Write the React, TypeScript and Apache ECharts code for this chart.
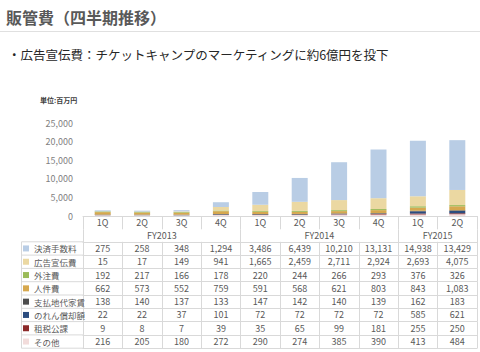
import React, { useEffect, useRef } from "react";
import * as echarts from "echarts";

const quarters = ["1Q", "2Q", "3Q", "4Q", "1Q", "2Q", "3Q", "4Q", "1Q", "2Q"];
const fiscalYears = ["FY2013", "FY2014", "FY2015"];
const quartersPerYear = [4, 4, 2];

// table order (top row first)
const seriesNames = ["決済手数料", "広告宣伝費", "外注費", "人件費", "支払地代家賃", "のれん償却額", "租税公課", "その他"];
const paymentFees = [275, 258, 348, 1294, 3486, 6439, 10210, 13131, 14938, 13429];
const advertising = [15, 17, 149, 941, 1665, 2459, 2711, 2924, 2693, 4075];
const outsourcing = [192, 217, 166, 178, 220, 244, 266, 293, 376, 326];
const personnel = [662, 573, 552, 759, 591, 568, 621, 803, 843, 1083];
const rent = [138, 140, 137, 133, 147, 142, 140, 139, 162, 183];
const goodwill = [22, 22, 37, 101, 72, 72, 72, 72, 585, 621];
const taxes = [9, 8, 7, 39, 35, 65, 99, 181, 255, 250];
const others = [216, 205, 180, 272, 290, 274, 385, 390, 413, 484];
const seriesValues = [paymentFees, advertising, outsourcing, personnel, rent, goodwill, taxes, others];
const seriesColors = ["#b9cde5", "#ebd8a2", "#9bbb59", "#d6a84e", "#4d4d4d", "#2b4c7e", "#8c2a2a", "#f2dcdb"];

const yTicks = [0, 5000, 10000, 15000, 20000, 25000];

const FONT = "'Noto Sans CJK JP', 'Noto Sans', sans-serif";
const GRID_LEFT = 83;
const GRID_RIGHT = 3;
const GRID_TOP = 123.3;
const GRID_BOTTOM = 136;
const ROW_H = 13.3;
const DATA_OFFSET = 25.8;
const BORDER = "#d9d9d9";
const TEXT_GREY = "#595959";

export default function App() {
  const ref = useRef<HTMLDivElement>(null);

  useEffect(() => {
    if (!ref.current) return;
    const chart = echarts.init(ref.current, null, { renderer: "svg" });

    // category keys (unique) built from fiscal years and quarters
    const keys: string[] = [];
    const fyCenters: number[] = [];
    const fyBounds: number[] = [0];
    let idx = 0;
    fiscalYears.forEach((fy, g) => {
      const n = quartersPerYear[g];
      fyCenters.push(idx + n / 2);
      for (let k = 0; k < n; k++) {
        keys.push(fy + " " + quarters[idx]);
        idx++;
      }
      fyBounds.push(idx);
    });
    const total = keys.length;

    const fmt = (v: number) => v.toLocaleString("en-US");

    const xAxes: any[] = [];
    // quarter row
    xAxes.push({
      type: "category",
      data: keys,
      position: "bottom",
      offset: 0,
      axisLine: { show: true, lineStyle: { color: BORDER, width: 1 } },
      axisTick: { show: true, interval: 0, length: ROW_H, lineStyle: { color: BORDER } },
      axisLabel: {
        interval: 0,
        margin: 0,
        lineHeight: ROW_H,
        fontSize: 9,
        color: TEXT_GREY,
        fontFamily: FONT,
        formatter: (v: string) => v.split(" ")[1],
      },
    });
    // fiscal-year row
    xAxes.push({
      type: "value",
      min: 0,
      max: total,
      position: "bottom",
      offset: ROW_H,
      splitLine: { show: false },
      axisLine: { show: false },
      axisTick: { show: true, customValues: fyBounds, length: ROW_H, lineStyle: { color: BORDER } },
      axisLabel: {
        customValues: fyCenters,
        margin: 0,
        lineHeight: ROW_H,
        fontSize: 9,
        color: TEXT_GREY,
        fontFamily: FONT,
        formatter: (v: number) => {
          const i = fyCenters.indexOf(v);
          return i >= 0 ? fiscalYears[i] : "";
        },
      },
    });
    // data rows
    seriesNames.forEach((_, i) => {
      xAxes.push({
        type: "category",
        data: keys,
        position: "bottom",
        offset: DATA_OFFSET + i * ROW_H,
        axisLine: { show: true, lineStyle: { color: BORDER, width: 1 } },
        axisTick: { show: true, interval: 0, length: ROW_H, lineStyle: { color: BORDER } },
        axisLabel: {
          interval: 0,
          margin: 0,
          lineHeight: ROW_H,
          fontSize: 9,
          color: TEXT_GREY,
          fontFamily: FONT,
          formatter: (_v: string, index: number) => fmt(seriesValues[i][index]),
        },
      });
    });
    // bottom border of table
    xAxes.push({
      type: "category",
      data: keys,
      position: "bottom",
      offset: DATA_OFFSET + seriesNames.length * ROW_H,
      axisLine: { show: true, lineStyle: { color: BORDER, width: 1 } },
      axisTick: { show: false },
      axisLabel: { show: false },
    });

    const gridBottomY = 352 - GRID_BOTTOM;
    const tableTop = gridBottomY + DATA_OFFSET;
    const legendLines: any[] = [];
    for (let k = 0; k <= seriesNames.length; k++) {
      const y = tableTop + k * ROW_H;
      legendLines.push({
        type: "line",
        shape: { x1: 21.5, y1: y, x2: GRID_LEFT, y2: y },
        style: { stroke: BORDER, lineWidth: 1 },
        silent: true,
      });
    }
    legendLines.push({
      type: "line",
      shape: { x1: 21.5, y1: tableTop, x2: 21.5, y2: tableTop + seriesNames.length * ROW_H },
      style: { stroke: BORDER, lineWidth: 1 },
      silent: true,
    });

    // stacking: bottom-most series first (reverse of table order)
    const stackOrder = seriesNames.map((_, i) => i).reverse();
    const series = stackOrder.map((i) => ({
      name: seriesNames[i],
      type: "bar",
      stack: "total",
      xAxisIndex: 0,
      yAxisIndex: 0,
      barWidth: 16,
      data: seriesValues[i],
      itemStyle: { color: seriesColors[i] },
    }));

    chart.setOption({
      animation: false,
      textStyle: { fontFamily: FONT },
      color: seriesColors,
      title: [
        {
          text: "販管費（四半期推移）",
          left: 6,
          top: 9,
          padding: 0,
          textStyle: { fontSize: 16, fontWeight: "bold", color: "#595959", fontFamily: FONT },
        },
        {
          text: "・広告宣伝費：チケットキャンプのマーケティングに約6億円を投下",
          left: 8,
          top: 48,
          padding: 0,
          textStyle: { fontSize: 12.5, fontWeight: "normal", color: "#262626", fontFamily: FONT },
        },
        {
          text: "単位:百万円",
          left: 40,
          top: 96.5,
          padding: 0,
          textStyle: { fontSize: 7, fontWeight: "bold", color: "#404040", fontFamily: FONT },
        },
      ],
      legend: {
        orient: "vertical",
        left: 23,
        top: tableTop,
        padding: 0,
        itemWidth: 6,
        itemHeight: 6,
        itemGap: 0,
        icon: "rect",
        selectedMode: false,
        data: seriesNames,
        textStyle: { fontSize: 8.5, color: TEXT_GREY, lineHeight: ROW_H, fontFamily: FONT },
      },
      grid: { left: GRID_LEFT, right: GRID_RIGHT, top: GRID_TOP, bottom: GRID_BOTTOM },
      xAxis: xAxes,
      yAxis: {
        type: "value",
        min: yTicks[0],
        max: yTicks[yTicks.length - 1],
        interval: yTicks[1] - yTicks[0],
        axisLine: { show: false },
        axisTick: { show: false },
        splitLine: { show: false },
        axisLabel: { margin: 10, fontSize: 9, color: "#7f7f7f", fontFamily: FONT, formatter: (v: number) => fmt(v) },
      },
      graphic: [
        {
          type: "line",
          shape: { x1: 0, y1: 31.5, x2: 480, y2: 31.5 },
          style: { stroke: "#e0e0e0", lineWidth: 1 },
          silent: true,
        },
        ...legendLines,
      ],
      series,
    });

    return () => chart.dispose();
  }, []);

  return <div ref={ref} style={{ position: "absolute", left: 0, top: 0, width: 480, height: 352 }} />;
}
